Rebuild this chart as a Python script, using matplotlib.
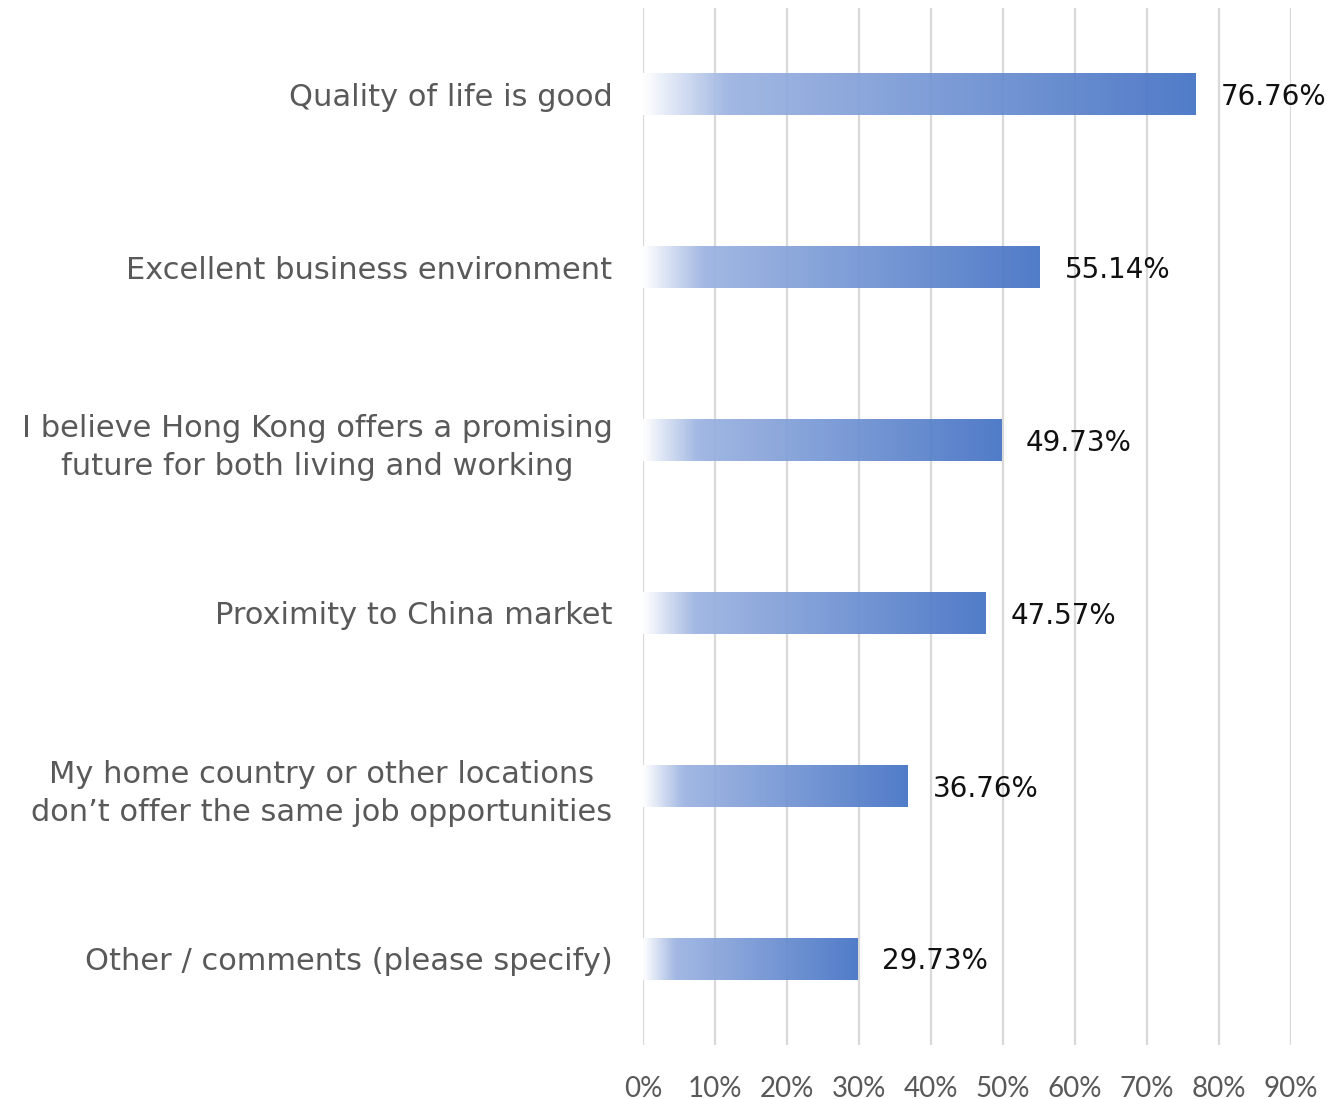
import matplotlib.pyplot as plt
import numpy as np
from matplotlib.colors import LinearSegmentedColormap

categories = [
    "Quality of life is good",
    "Excellent business environment",
    "I believe Hong Kong offers a promising\nfuture for both living and working",
    "Proximity to China market",
    "My home country or other locations\ndon\u2019t offer the same job opportunities",
    "Other / comments (please specify)",
]
values = [76.76, 55.14, 49.73, 47.57, 36.76, 29.73]
xticks = [0, 10, 20, 30, 40, 50, 60, 70, 80, 90]

# white -> light blue quickly, then ramp to the office blue
cmap = LinearSegmentedColormap.from_list(
    "bar_fade",
    [(0.0, "#ffffff"), (0.15, "#9cb3e1"), (1.0, "#4472c4")],
)

fig = plt.figure(figsize=(13.27, 10.99), dpi=100)
ax = fig.add_axes([0.4846, 0.0491, 0.9729 - 0.4846, 0.9927 - 0.0491])

bar_h = 0.243
grad = np.linspace(0, 1, 256).reshape(1, -1)
for i, (cat, val) in enumerate(zip(categories, values)):
    ax.imshow(
        grad,
        cmap=cmap,
        aspect="auto",
        extent=[0, val, i + bar_h / 2, i - bar_h / 2],
        alpha=0.93,
        zorder=3,
        interpolation="bilinear",
    )
    ax.annotate(
        f"{val:.2f}%",
        xy=(val, i),
        xytext=(18, -2),
        textcoords="offset points",
        ha="left",
        va="center",
        fontsize=20,
        family="DejaVu Sans",
        color="#111111",
        zorder=4,
    )

ax.set_xlim(0, 90)
ax.set_ylim(len(categories) - 0.5, -0.5)
ax.set_xticks(xticks)
ax.set_xticklabels([f"{t}%" for t in xticks], fontsize=20, family="Lato", color="#595959")
ax.set_yticks(range(len(categories)))
ax.set_yticklabels(categories, fontsize=22, family="DejaVu Sans", color="#595959",
                   multialignment="center", linespacing=1.4)
ax.tick_params(axis="x", length=0, pad=22)
ax.tick_params(axis="y", length=0, pad=22)

ax.grid(axis="x", color="#d9d9d9", linewidth=1.6, zorder=0)
ax.set_axisbelow(True)
for s in ax.spines.values():
    s.set_visible(False)

fig.savefig("out.png", dpi=100)
